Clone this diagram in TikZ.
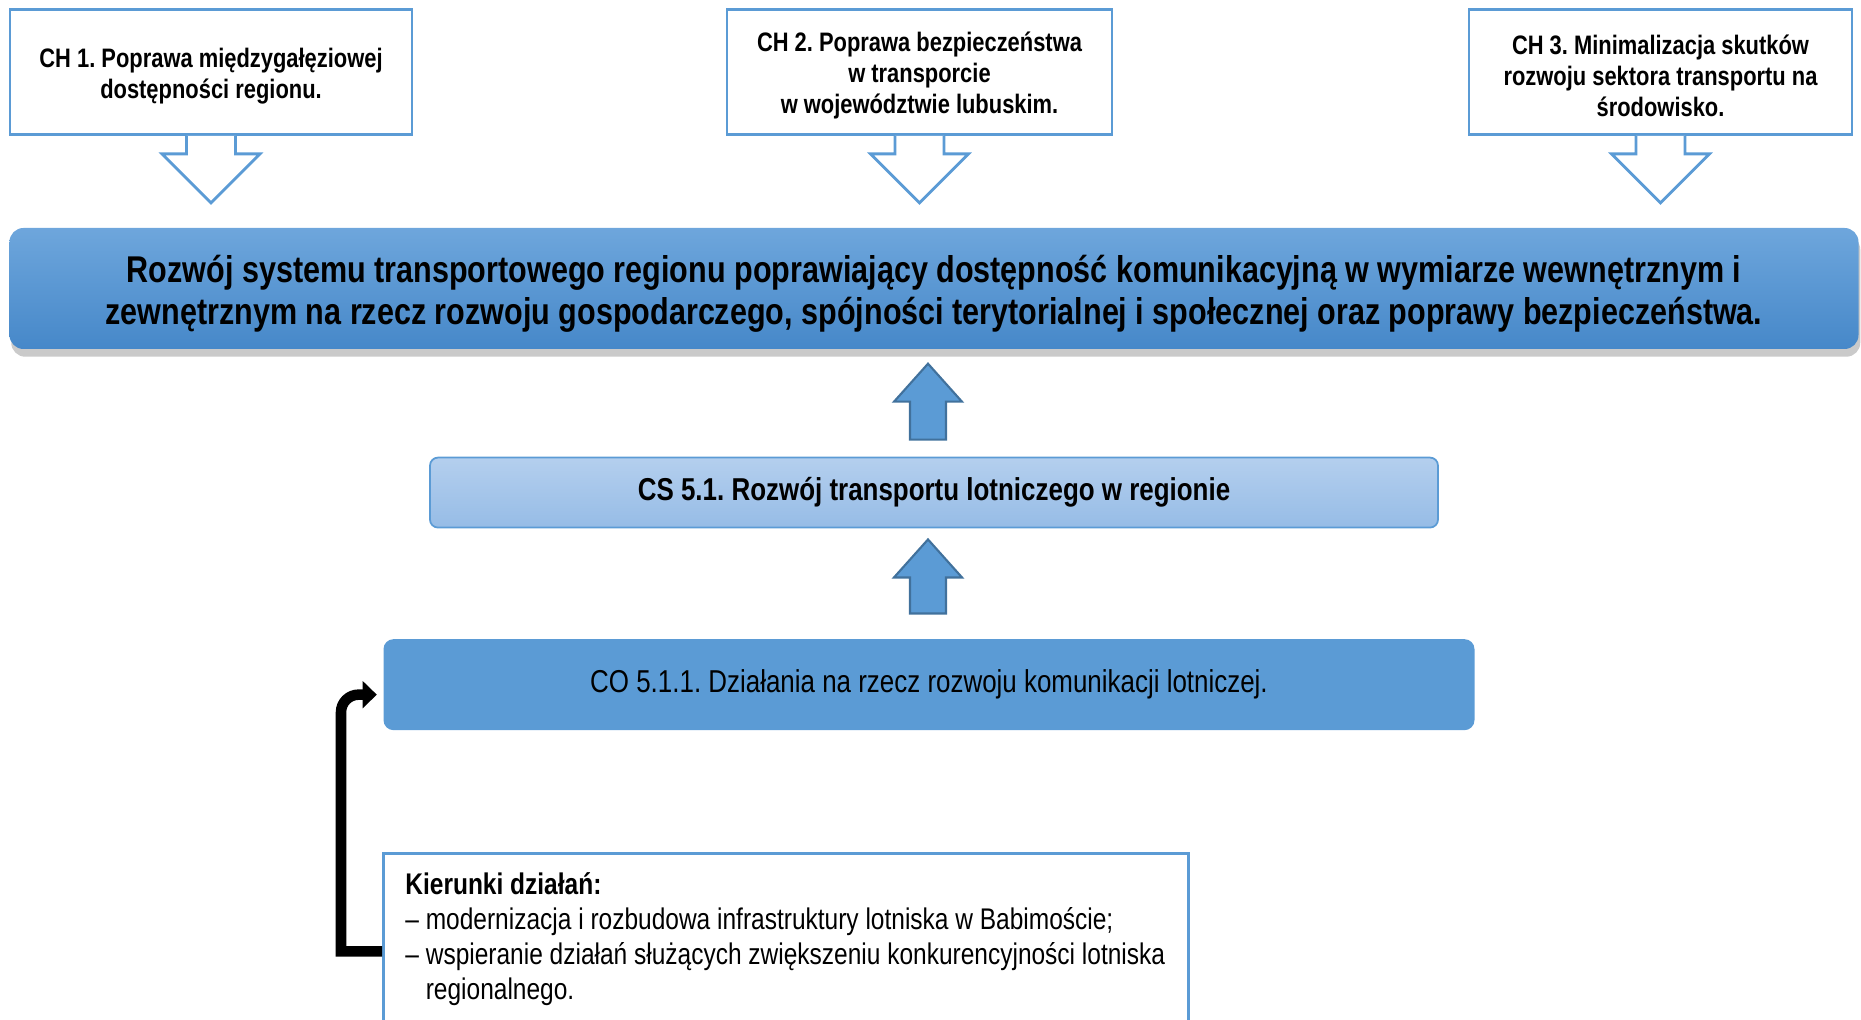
\documentclass[tikz,border=0pt]{standalone}
\usepackage{fontspec}
\setmainfont{Liberation Sans}[FakeStretch=0.82]
\frenchspacing
\usetikzlibrary{arrows.meta, positioning, calc, shadows}
\definecolor{LineBlue}{RGB}{91,155,213}
\definecolor{FillBlue}{RGB}{91,155,213}
\definecolor{TopBlue}{RGB}{110,166,220}
\definecolor{BottomBlue}{RGB}{70,136,201}
\definecolor{PaleTop}{RGB}{180,207,238}
\definecolor{PaleBottom}{RGB}{150,188,230}
\definecolor{EdgeBlue}{RGB}{65,113,156}

\begin{document}
\begin{tikzpicture}[
    chbox/.style={draw=LineBlue, line width=0.8pt, fill=white, align=center,
        minimum height=1.25cm, font=\fontsize{7.6}{8.8}\selectfont\bfseries},
    mainbox/.style={rounded corners=0.14cm, top color=TopBlue, bottom color=BottomBlue,
        draw=none, align=center, font=\fontsize{10.6}{12.2}\selectfont\bfseries,
        drop shadow={shadow xshift=0.5pt, shadow yshift=-2.2pt, fill=black!60, opacity=0.35}},
    csbox/.style={rounded corners=0.08cm, top color=PaleTop, bottom color=PaleBottom,
        draw=LineBlue, line width=0.5pt, font=\fontsize{9}{10.5}\selectfont\bfseries},
    cobox/.style={rounded corners=0.1cm, fill=FillBlue, draw=none,
        font=\fontsize{9}{10.5}\selectfont},
    kierbox/.style={draw=LineBlue, line width=0.8pt, fill=white, inner xsep=0.22cm,
        inner ysep=0.1cm, font=\fontsize{8.5}{10}\selectfont},
    blockdown/.style={draw=LineBlue, line width=0.8pt, fill=white, line join=miter},
    blockup/.style={draw=EdgeBlue, line width=0.6pt, fill=FillBlue, line join=miter},
    elbow/.style={line width=3pt, black, -{Triangle[length=4pt, width=7.5pt]}}
]
\useasboundingbox (0,0) rectangle (18.61,-10.20);

% cele horyzontalne
\node[chbox, minimum width=4.02cm] (ch1) at (2.11,-0.72)
    {\rule{0pt}{0.27cm}CH 1. Poprawa międzygałęziowej\\dostępności regionu.};
\node[chbox, minimum width=3.85cm] (ch2) at (9.195,-0.72)
    {\rule{0pt}{0.27cm}CH 2. Poprawa bezpieczeństwa\\w transporcie\\w województwie lubuskim.};
\node[chbox, minimum width=3.83cm] (ch3) at (16.605,-0.72)
    {\rule{0pt}{0.27cm}CH 3. Minimalizacja skutków\\rozwoju sektora transportu na\\środowisko.};

% strzalki w dol
\foreach \c in {ch1,ch2,ch3}{
    \draw[blockdown, shift={(\c.south)}] (-0.245,0) -- (-0.245,-0.18) -- (-0.49,-0.18)
        -- (0,-0.67) -- (0.49,-0.18) -- (0.245,-0.18) -- (0.245,0);
}

% cel glowny
\node[mainbox, minimum width=18.49cm, minimum height=1.21cm] (main) at (9.34,-2.885)
    {\rule{0pt}{0.38cm}Rozwój systemu transportowego regionu poprawiający dostępność komunikacyjną w wymiarze wewnętrznym i\\
     zewnętrznym na rzecz rozwoju gospodarczego, spójności terytorialnej i społecznej oraz poprawy bezpieczeństwa.};

% cel strategiczny i operacyjny
\node[csbox, minimum width=10.08cm, minimum height=0.70cm, below=1.07cm of main] (cs)
    {CS 5.1. Rozwój transportu lotniczego w regionie};
\node[cobox, minimum width=10.91cm, minimum height=0.91cm, below=1.10cm of cs, xshift=-0.05cm] (co)
    {CO 5.1.1. Działania na rzecz rozwoju komunikacji lotniczej.};

% strzalki w gore: cel / dol / podstawa grotu / czubek
\foreach \t/\b/\h/\p in {cs/0.17/0.55/0.93, co/0.25/0.61/0.99}{
    \draw[blockup, shift={(cs.north |- \t.north)}, xshift=-0.06cm] (-0.18,\b) -- (-0.18,\h) -- (-0.34,\h)
        -- (0,\p) -- (0.34,\h) -- (0.18,\h) -- (0.18,\b) -- cycle;
}

% kierunki dzialan
\node[kierbox, anchor=north west] (kier) at (3.82,-8.52)
    {\parbox[t][1.76cm][t]{7.61cm}{\vspace*{0.09cm}\textbf{Kierunki działań:}\\
     – modernizacja i rozbudowa infrastruktury lotniska w Babimoście;\\
     – wspieranie działań służących zwiększeniu konkurencyjności lotniska\\
     \phantom{–}\ regionalnego.}};

\coordinate (coin) at ([xshift=-0.06cm, yshift=-0.1cm]co.west);
\draw[elbow] (kier.west) -- ++(-0.41,0) coordinate (kink)
    [rounded corners=5pt] -- (kink |- coin) -- (coin);

\end{tikzpicture}
\end{document}
